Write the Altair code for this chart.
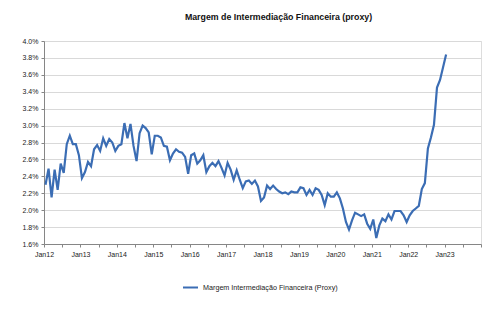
import altair as alt
import pandas as pd

# Monthly values, Jan 2012 .. Jan 2023 (%)
y2012 = [2.30, 2.49, 2.15, 2.48, 2.24, 2.55, 2.44, 2.78, 2.88, 2.78, 2.78, 2.65]
y2013 = [2.38, 2.45, 2.57, 2.52, 2.72, 2.77, 2.70, 2.85, 2.76, 2.84, 2.80, 2.70]
y2014 = [2.76, 2.78, 3.03, 2.85, 3.02, 2.76, 2.58, 2.91, 3.00, 2.97, 2.92, 2.66]
y2015 = [2.88, 2.88, 2.86, 2.76, 2.75, 2.59, 2.67, 2.72, 2.69, 2.68, 2.63, 2.43]
y2016 = [2.65, 2.67, 2.55, 2.59, 2.65, 2.45, 2.52, 2.56, 2.52, 2.58, 2.50, 2.41]
y2017 = [2.56, 2.48, 2.36, 2.47, 2.36, 2.26, 2.34, 2.35, 2.31, 2.35, 2.28, 2.11]
y2018 = [2.15, 2.29, 2.25, 2.29, 2.25, 2.22, 2.20, 2.21, 2.19, 2.22, 2.21, 2.21]
y2019 = [2.27, 2.26, 2.18, 2.24, 2.18, 2.26, 2.24, 2.18, 2.06, 2.20, 2.16, 2.16]
y2020 = [2.21, 2.14, 2.02, 1.86, 1.77, 1.88, 1.97, 1.95, 1.93, 1.95, 1.84, 1.78]
y2021 = [1.89, 1.67, 1.82, 1.90, 1.87, 1.95, 1.89, 1.99, 1.99, 1.99, 1.94, 1.86]
y2022 = [1.94, 1.99, 2.02, 2.05, 2.25, 2.32, 2.73, 2.86, 3.01, 3.45, 3.54, 3.69]
y2023 = [3.84]

values = (y2012 + y2013 + y2014 + y2015 + y2016 + y2017 + y2018 + y2019
          + y2020 + y2021 + y2022 + y2023)

series_name = "Margem Intermediação Financeira (Proxy)"
title_text = "Margem de Intermediação Financeira (proxy)"
y_ticks = [1.6, 1.8, 2.0, 2.2, 2.4, 2.6, 2.8, 3.0, 3.2, 3.4, 3.6, 3.8, 4.0]
x_ticks = list(range(0, 145, 6))  # months since Jan12, every half year

df = pd.DataFrame({
    "m": [i + 0.5 for i in range(len(values))],
    "v": values,
    "series": [series_name] * len(values),
})

FONT = "Liberation Sans"

chart = alt.Chart(df).mark_line(strokeWidth=2.2, interpolate="linear").encode(
    x=alt.X("m:Q",
            scale=alt.Scale(domain=[0, 144], nice=False, zero=False),
            axis=alt.Axis(values=x_ticks, title=None, grid=False,
                          labelExpr="datum.value % 12 == 0 && datum.value < 144 ? 'Jan' + (12 + datum.value / 12) : ''",
                          labelFontSize=7, labelColor="#222222", labelFont=FONT,
                          tickSize=3, tickColor="#868686", domainColor="#868686",
                          labelPadding=3, labelFlush=False)),
    y=alt.Y("v:Q",
            scale=alt.Scale(domain=[1.6, 4.0], nice=False, zero=False),
            axis=alt.Axis(values=y_ticks, title=None,
                          labelExpr="format(datum.value, '.1f') + '%'",
                          labelFontSize=7, labelColor="#222222", labelFont=FONT,
                          tickSize=3, tickColor="#868686", domainColor="#868686",
                          gridColor="#d9d9d9", gridWidth=1, labelPadding=3)),
    color=alt.Color("series:N",
                    scale=alt.Scale(range=["#3b6db4"]),
                    legend=alt.Legend(orient="none", legendX=138, legendY=238,
                                      title=None, symbolType="stroke",
                                      symbolSize=225, symbolStrokeWidth=2,
                                      labelFontSize=7.2, labelFont=FONT,
                                      labelColor="#222222", direction="horizontal")),
).properties(
    width=437,
    height=203,
    title=alt.TitleParams(title_text, fontSize=8.8, font=FONT, fontWeight="bold",
                          color="#111111", anchor="middle", dx=16, offset=15),
    autosize=alt.AutoSizeParams(type="none"),
    padding={"left": 44, "top": 41, "right": 19, "bottom": 81},
).configure_view(stroke=None).configure(background="white")

chart.save("out.html", embed_options={"renderer": "svg", "actions": False})
